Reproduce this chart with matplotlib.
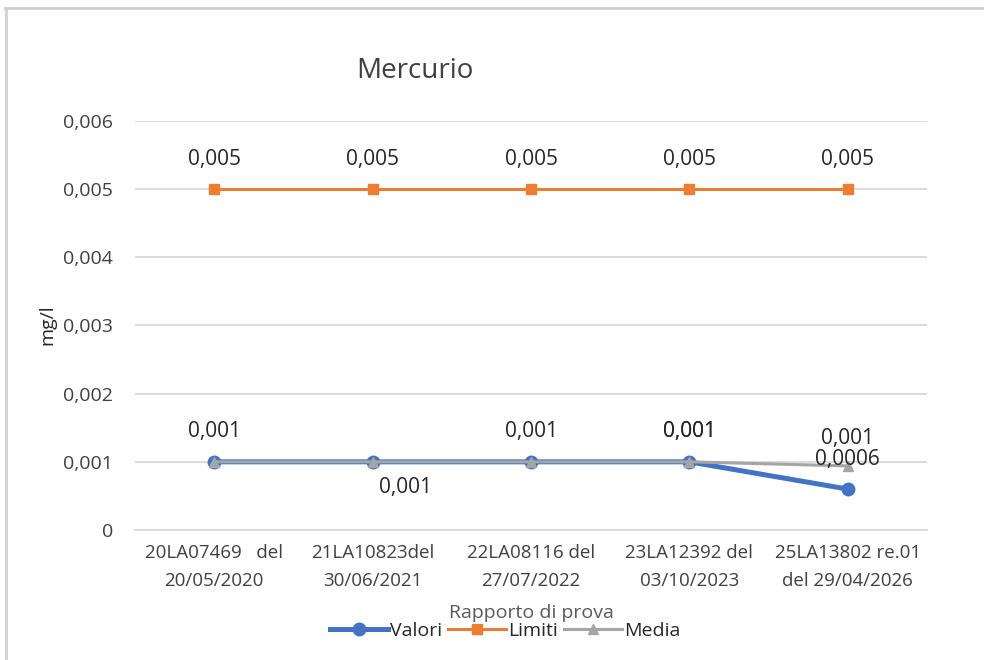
import matplotlib.pyplot as plt
from matplotlib.lines import Line2D
from matplotlib.ticker import FuncFormatter

FONT = "Open Sans"

categories = [
    "20LA07469   del\n20/05/2020",
    "21LA10823del\n30/06/2021",
    "22LA08116 del\n27/07/2022",
    "23LA12392 del\n03/10/2023",
    "25LA13802 re.01\ndel 29/04/2026",
]
valori = [0.001, 0.001, 0.001, 0.001, 0.0006]
limiti = [0.005, 0.005, 0.005, 0.005, 0.005]
media = [0.001, 0.001, 0.001, 0.001, 0.00094]
valori_labels = ["0,001", "0,001", "0,001", "0,001", "0,0006"]
valori_below = [False, True, False, False, False]
limiti_labels = ["0,005"] * 5
media_labels = ["", "", "", "0,001", "0,001"]


def comma(v, pos=None):
    if v == 0:
        return "0"
    return f"{v:.3f}".replace(".", ",")


def main() -> None:
    plt.rcParams["font.family"] = [FONT, "DejaVu Sans"]
    fig = plt.figure(figsize=(9.84, 6.6), dpi=100)
    ax = fig.add_axes([135 / 984, 1 - 530 / 660, (927 - 135) / 984, (530 - 121) / 660])

    x = list(range(len(categories)))
    blue = "#4472C4"
    orange = "#ED7D31"
    grey = "#A5A5A5"

    ax.plot(x, valori, color=blue, lw=3.6, marker="o", ms=9, zorder=3)
    ax.plot(x, limiti, color=orange, lw=2.2, marker="s", ms=7, zorder=3)
    ax.plot(x, media, color=grey, lw=2.2, marker="^", ms=7, zorder=4)

    ax.set_xlim(-0.5, len(categories) - 0.5)
    ax.set_ylim(0, 0.006)
    ax.set_yticks([0, 0.001, 0.002, 0.003, 0.004, 0.005, 0.006])
    ax.yaxis.set_major_formatter(FuncFormatter(comma))
    ax.set_xticks(x)
    ax.set_xticklabels(categories, fontsize=13.5, color="#404040", linespacing=1.7)
    ax.tick_params(axis="y", labelsize=14, labelcolor="#404040", length=0, pad=16)
    ax.tick_params(axis="x", length=0, pad=10)
    ax.grid(axis="y", color="#D9D9D9", lw=1.3)
    ax.set_axisbelow(True)
    for s in ["top", "right", "left"]:
        ax.spines[s].set_visible(False)
    ax.spines["bottom"].set_color("#D9D9D9")
    ax.spines["bottom"].set_linewidth(1.3)

    lab_kw = dict(ha="center", fontsize=15, color="#262626", zorder=5)
    for i, v in enumerate(limiti):
        ax.annotate(limiti_labels[i], (i, v), xytext=(0, 14), textcoords="offset points",
                    va="bottom", **lab_kw)
    for i, v in enumerate(valori):
        if i == 4:
            continue
        if valori_below[i]:
            ax.annotate(valori_labels[i], (i, v), xytext=(24, -11), textcoords="offset points",
                        va="top", **lab_kw)
        else:
            ax.annotate(valori_labels[i], (i, v), xytext=(0, 14), textcoords="offset points",
                        va="bottom", **lab_kw)
    ax.annotate(valori_labels[4], (4, valori[4]), xytext=(0, 14), textcoords="offset points",
                va="bottom", **lab_kw)
    for i, v in enumerate(media):
        if media_labels[i] and i == 4:
            ax.annotate(media_labels[i], (i, v), xytext=(0, 12), textcoords="offset points",
                        va="bottom", **lab_kw)
        elif media_labels[i]:
            ax.annotate(media_labels[i], (i, v), xytext=(0, 14), textcoords="offset points",
                        va="bottom", **lab_kw)

    fig.text(415 / 984, 1 - 71 / 660, "Mercurio", ha="center", va="center",
             fontsize=20, color="#404040")
    fig.text(47 / 984, 1 - 325 / 660, "mg/l", ha="center", va="center", rotation=90,
             fontsize=14, color="#262626")
    fig.text(531 / 984, 1 - 613 / 660, "Rapporto di prova", ha="center", va="center",
             fontsize=14, color="#595959")

    handles = [
        Line2D([], [], color=blue, lw=3.6, marker="o", ms=9),
        Line2D([], [], color=orange, lw=2.2, marker="s", ms=7),
        Line2D([], [], color=grey, lw=2.2, marker="^", ms=7),
    ]
    fig.legend(handles, ["Valori", "Limiti", "Media"], loc="center",
               bbox_to_anchor=(505 / 984, 1 - 631 / 660), ncol=3, frameon=False,
               fontsize=14, handlelength=3.0, handletextpad=0.1, columnspacing=0.3,
               labelcolor="#262626")

    # outer frame (top and left edge visible)
    fig.add_artist(Line2D([5 / 984, 1], [1 - 8 / 660, 1 - 8 / 660], color="#D0D0D0", lw=2,
                          transform=fig.transFigure))
    fig.add_artist(Line2D([6 / 984, 6 / 984], [0, 1 - 8 / 660], color="#D0D0D0", lw=2,
                          transform=fig.transFigure))

    fig.savefig("out.png", dpi=100)


if __name__ == "__main__":
    main()
